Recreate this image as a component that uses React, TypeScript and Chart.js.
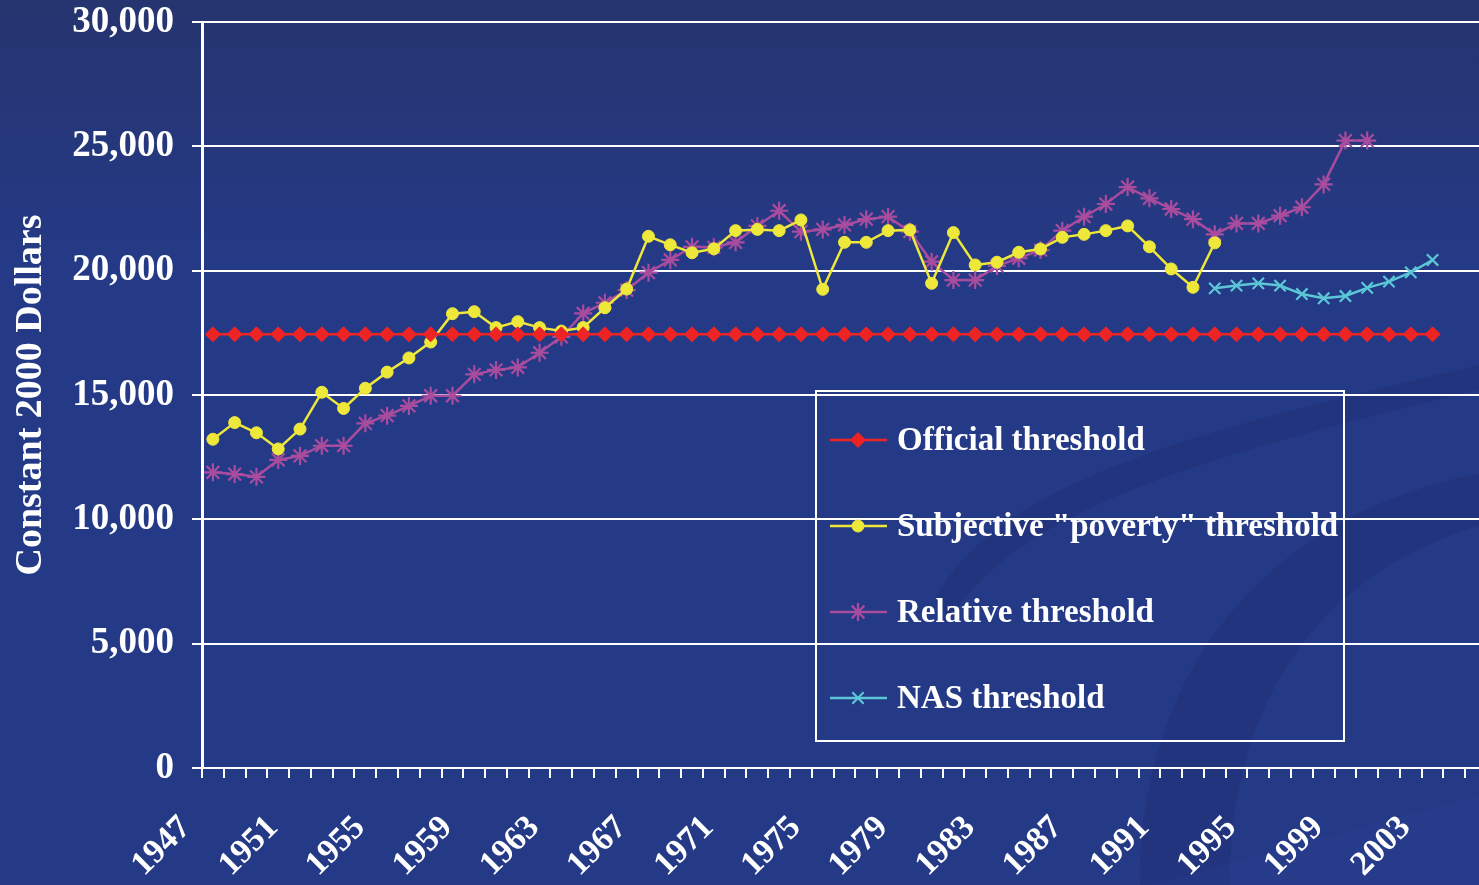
import React, { useEffect, useRef } from 'react';
import { Chart, registerables } from 'chart.js';
import { drawPoint } from 'chart.js/helpers';

Chart.register(...registerables);

// ---------- data ----------
const years = [
  '1947', '1948', '1949', '1950', '1951', '1952', '1953', '1954', '1955', '1956',
  '1957', '1958', '1959', '1960', '1961', '1962', '1963', '1964', '1965', '1966',
  '1967', '1968', '1969', '1970', '1971', '1972', '1973', '1974', '1975', '1976',
  '1977', '1978', '1979', '1980', '1981', '1982', '1983', '1984', '1985', '1986',
  '1987', '1988', '1989', '1990', '1991', '1992', '1993', '1994', '1995', '1996',
  '1997', '1998', '1999', '2000', '2001', '2002', '2003', '2004', '2005',
];

const tickLabels = [
  '1947', '1951', '1955', '1959', '1963', '1967', '1971', '1975',
  '1979', '1983', '1987', '1991', '1995', '1999', '2003',
];

const yTicks = [0, 5000, 10000, 15000, 20000, 25000, 30000];

// 1947 - 2003
const official = [
  17440, 17440, 17440, 17440, 17440, 17440, 17440, 17440, 17440, 17440,
  17440, 17440, 17440, 17440, 17440, 17440, 17440, 17440, 17440, 17440,
  17440, 17440, 17440, 17440, 17440, 17440, 17440, 17440, 17440, 17440,
  17440, 17440, 17440, 17440, 17440, 17440, 17440, 17440, 17440, 17440,
  17440, 17440, 17440, 17440, 17440, 17440, 17440, 17440, 17440, 17440,
  17440, 17440, 17440, 17440, 17440, 17440, 17440,
];

// 1947 - 1993
const subjective = [
  13220, 13890, 13480, 12830, 13630, 15110, 14460, 15270, 15920, 16490,
  17130, 18270, 18350, 17710, 17950, 17710, 17570, 17710, 18510, 19260,
  21380, 21040, 20720, 20880, 21610, 21660, 21610, 22040, 19250, 21140,
  21140, 21610, 21640, 19490, 21530, 20230, 20340, 20740, 20870, 21340,
  21460, 21610, 21800, 20960, 20070, 19330, 21120,
];

// 1947 - 2000
const relative = [
  11890, 11820, 11710, 12390, 12550, 12960, 12960, 13860, 14170, 14560,
  14970, 14970, 15830, 16010, 16110, 16700, 17340, 18280, 18710, 19220,
  19920, 20430, 20960, 20940, 21140, 21800, 22410, 21570, 21660, 21840,
  22070, 22170, 21570, 20360, 19620, 19620, 20190, 20500, 20830, 21610,
  22170, 22680, 23360, 22910, 22480, 22070, 21460, 21900, 21900, 22210,
  22550, 23470, 25230, 25230,
];

// 1993 - 2003
const nasStartYear = '1993';
const nas = [19290, 19400, 19490, 19400, 19060, 18890, 18980, 19310, 19560, 19930, 20430];

const seriesNames = [
  'Official threshold',
  'Subjective "poverty" threshold',
  'Relative threshold',
  'NAS threshold',
];

// ---------- helpers ----------
const FONT = '"Liberation Serif", "Times New Roman", serif';

function placeAt(values: number[], start: number): (number | null)[] {
  return years.map((_, i) => {
    const k = i - start;
    return k >= 0 && k < values.length ? values[k] : null;
  });
}

const backgroundPlugin = {
  id: 'slideBackground',
  beforeDraw(chart: any) {
    const { ctx, width, height } = chart;
    ctx.save();
    const g = ctx.createLinearGradient(0, 0, 0, 260);
    g.addColorStop(0, '#26346f');
    g.addColorStop(1, '#253a86');
    ctx.fillStyle = g;
    ctx.fillRect(0, 0, width, height);

    // subtle swooshes in lower right
    ctx.fillStyle = 'rgba(25, 40, 105, 0.3)';
    ctx.beginPath();
    ctx.moveTo(935, 600);
    ctx.bezierCurveTo(1000, 470, 1250, 420, 1500, 360);
    ctx.lineTo(1500, 385);
    ctx.bezierCurveTo(1250, 445, 1020, 500, 950, 620);
    ctx.closePath();
    ctx.fill();

    ctx.fillStyle = 'rgba(25, 40, 105, 0.28)';
    ctx.beginPath();
    ctx.moveTo(1140, 885);
    ctx.bezierCurveTo(1140, 640, 1300, 500, 1500, 470);
    ctx.lineTo(1500, 520);
    ctx.bezierCurveTo(1340, 560, 1230, 680, 1230, 885);
    ctx.closePath();
    ctx.fill();

    ctx.fillStyle = 'rgba(45, 70, 160, 0.22)';
    ctx.beginPath();
    ctx.moveTo(1150, 885);
    ctx.lineTo(1500, 790);
    ctx.lineTo(1500, 885);
    ctx.closePath();
    ctx.fill();
    ctx.restore();
  },
};

const legendRowsY = [440, 526, 612, 698];

const boxLegendPlugin = {
  id: 'boxLegend',
  afterDraw(chart: any) {
    const { ctx } = chart;
    ctx.save();
    ctx.strokeStyle = '#ffffff';
    ctx.lineWidth = 2;
    ctx.strokeRect(816, 391, 528, 350);
    chart.data.datasets.forEach((ds: any, i: number) => {
      const y = legendRowsY[i];
      ctx.strokeStyle = ds.borderColor;
      ctx.lineWidth = ds.borderWidth;
      ctx.beginPath();
      ctx.moveTo(830, y);
      ctx.lineTo(887, y);
      ctx.stroke();
      ctx.fillStyle = ds.pointBackgroundColor;
      ctx.strokeStyle = ds.pointBorderColor;
      ctx.lineWidth = ds.pointBorderWidth;
      drawPoint(ctx, {
        pointStyle: ds.pointStyle,
        radius: ds.pointRadius,
        borderWidth: ds.pointBorderWidth,
        rotation: 0,
      } as any, 858, y);
      ctx.fillStyle = '#ffffff';
      ctx.font = `bold 33px ${FONT}`;
      ctx.textBaseline = 'middle';
      ctx.textAlign = 'left';
      ctx.fillText(ds.label, 897, y + 1);
    });
    ctx.restore();
  },
};

export default function App() {
  const canvasRef = useRef<HTMLCanvasElement | null>(null);

  useEffect(() => {
    if (!canvasRef.current) return;
    const nasStart = years.indexOf(nasStartYear);
    const chart = new Chart(canvasRef.current, {
      type: 'line',
      data: {
        labels: years,
        datasets: [
          {
            label: seriesNames[0],
            data: placeAt(official, 0),
            borderColor: '#ee2424',
            backgroundColor: '#ee2424',
            borderWidth: 2.5,
            pointStyle: 'rectRot',
            pointRadius: 7.5,
            pointBackgroundColor: '#ee2424',
            pointBorderColor: '#ee2424',
            pointBorderWidth: 1,
          },
          {
            label: seriesNames[1],
            data: placeAt(subjective, 0),
            borderColor: '#eee83a',
            backgroundColor: '#eee83a',
            borderWidth: 2.5,
            pointStyle: 'circle',
            pointRadius: 6,
            pointBackgroundColor: '#eee83a',
            pointBorderColor: '#eee83a',
            pointBorderWidth: 1,
          },
          {
            label: seriesNames[2],
            data: placeAt(relative, 0),
            borderColor: '#a94c9e',
            backgroundColor: '#a94c9e',
            borderWidth: 2.5,
            pointStyle: 'star',
            pointRadius: 9,
            pointBackgroundColor: '#a94c9e',
            pointBorderColor: '#a94c9e',
            pointBorderWidth: 2.2,
          },
          {
            label: seriesNames[3],
            data: placeAt(nas, nasStart),
            borderColor: '#5bc6d6',
            backgroundColor: '#5bc6d6',
            borderWidth: 2.5,
            pointStyle: 'crossRot',
            pointRadius: 8,
            pointBackgroundColor: '#5bc6d6',
            pointBorderColor: '#5bc6d6',
            pointBorderWidth: 2.2,
          },
        ],
      },
      options: {
        animation: false,
        responsive: false,
        maintainAspectRatio: false,
        devicePixelRatio: 1,
        layout: { padding: { left: 0, top: 22, right: 13, bottom: 0 } },
        elements: { line: { tension: 0 } },
        plugins: {
          legend: { display: false },
          tooltip: { enabled: false },
        },
        scales: {
          x: {
            type: 'category',
            offset: true,
            grid: {
              offset: true,
              drawOnChartArea: false,
              drawTicks: true,
              tickLength: 10,
              color: '#ffffff',
              lineWidth: 2,
            },
            border: { color: '#ffffff', width: 2 },
            ticks: {
              autoSkip: false,
              maxRotation: 45,
              minRotation: 45,
              padding: 30,
              labelOffset: -27,
              color: '#ffffff',
              font: { family: FONT, size: 34, weight: 'bold' },
              callback: (_v: any, i: number) => (tickLabels.includes(years[i]) ? years[i] : ''),
            },
            afterFit: (s: any) => {
              s.height = 117;
              s.paddingLeft = 0;
              s.paddingRight = 0;
            },
          },
          y: {
            min: yTicks[0],
            max: yTicks[yTicks.length - 1],
            afterBuildTicks: (s: any) => {
              s.ticks = yTicks.map((v) => ({ value: v }));
            },
            ticks: {
              padding: 18,
              color: '#ffffff',
              font: { family: FONT, size: 37, weight: 'bold' },
              callback: (v: any) => Number(v).toLocaleString('en-US'),
            },
            grid: { color: '#ffffff', lineWidth: 2, tickLength: 10 },
            border: { color: '#ffffff', width: 3 },
            title: {
              display: true,
              text: 'Constant 2000 Dollars',
              color: '#ffffff',
              font: { family: FONT, size: 38, weight: 'bold' },
              padding: { top: 8, bottom: 0 },
            },
            afterFit: (s: any) => {
              s.width = 202;
              s.paddingTop = 0;
              s.paddingBottom = 0;
            },
          },
        },
      } as any,
      plugins: [backgroundPlugin, boxLegendPlugin],
    });
    return () => chart.destroy();
  }, []);

  return (
    <div
      style={{
        position: 'fixed',
        left: 0,
        top: 0,
        width: 1479,
        height: 885,
        overflow: 'hidden',
        background: '#253a86',
      }}
    >
      <canvas ref={canvasRef} width={1500} height={885} style={{ display: 'block' }} />
    </div>
  );
}
